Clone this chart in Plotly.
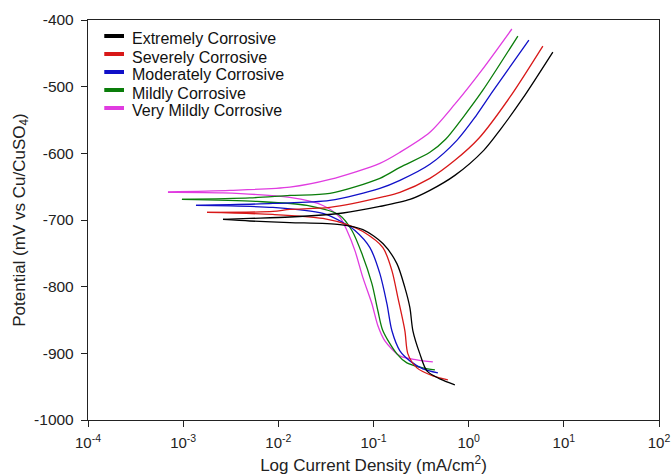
import plotly.graph_objects as go

# ---- data: current density (mA/cm^2) and potential (mV vs Cu/CuSO4) ----
# each series: cathodic branch (from Ecorr downward) and anodic branch (from Ecorr upward)
names = ["Extremely Corrosive", "Severely Corrosive", "Moderately Corrosive",
         "Mildly Corrosive", "Very Mildly Corrosive"]
colors = ["#000000", "#d81818", "#1010c8", "#0a7d0a", "#e03ce0"]

ext_cat_i = [0.00262, 0.00503, 0.0132, 0.0444, 0.0774, 0.1255, 0.1761, 0.2137, 0.2412, 0.2594, 0.3072, 0.3638, 0.4984, 0.7161]
ext_cat_e = [-699.2, -701.5, -703.8, -706.8, -714.3, -735.3, -765.4, -801.5, -831.6, -866.2, -900.8, -926.3, -938.4, -947.4]
ext_ano_i = [0.00262, 0.00503, 0.0132, 0.0477, 0.1167, 0.2412, 0.3913, 0.7161, 1.440, 2.16, 3.710, 7.664]
ext_ano_e = [-699.2, -697.7, -695.5, -689.5, -679.7, -669.2, -655.6, -633.1, -595.5, -564, -517.3, -448.1]

sev_cat_i = [0.00178, 0.00878, 0.0294, 0.0565, 0.0774, 0.1255, 0.1561, 0.1804, 0.2137, 0.2298, 0.2857, 0.4206, 0.6046]
sev_cat_e = [-688.7, -691.7, -697.7, -708.3, -717.3, -741.4, -775.9, -816.5, -866.2, -900.8, -921.8, -933.8, -939.9]
sev_ano_i = [0.00178, 0.00878, 0.0132, 0.0348, 0.1317, 0.1894, 0.3913, 0.7161, 1.280, 2.709, 6.017]
sev_ano_e = [-688.7, -687.2, -684.2, -681.2, -664.7, -658.6, -637.6, -610.5, -577.4, -515.8, -439.1]

mod_cat_i = [0.001363, 0.00878, 0.0294, 0.0477, 0.0638, 0.0917, 0.1167, 0.1383, 0.1561, 0.1894, 0.2412, 0.3303, 0.4748]
mod_cat_e = [-678.2, -681.2, -690.2, -703.8, -715.8, -741.4, -780.5, -825.6, -866.2, -896.2, -911.3, -923.3, -929.3]
mod_ano_i = [0.001363, 0.00878, 0.0348, 0.1167, 0.1894, 0.3913, 0.7517, 1.186, 1.796, 4.290]
mod_ano_e = [-678.2, -675.2, -670.7, -652.6, -640.6, -616.5, -580.5, -544.4, -506.8, -430.1]

mil_cat_i = [0.000971, 0.00596, 0.01998, 0.0444, 0.0593, 0.0755, 0.0962, 0.1112, 0.1255, 0.1761, 0.2243, 0.3303, 0.4416]
mil_cat_e = [-669.2, -672.2, -678.2, -693.2, -715.8, -750.4, -795.5, -836.1, -866.2, -900.8, -914.3, -921.8, -924.8]
mil_ano_i = [0.000971, 0.00503, 0.0132, 0.0348, 0.1167, 0.1894, 0.3913, 0.5725, 0.890, 1.410, 3.287]
mil_ano_e = [-669.2, -666.9, -663.2, -660.2, -637.6, -621.1, -598.5, -578.9, -544.4, -505.3, -424.1]

vmi_cat_i = [0.000692, 0.00262, 0.0132, 0.0294, 0.0444, 0.0526, 0.0638, 0.0774, 0.0962, 0.1112, 0.1317, 0.1894, 0.2857, 0.4206]
vmi_cat_e = [-658.6, -659.4, -666.2, -678.2, -696.2, -715.8, -745.9, -786.5, -825.6, -858.6, -881.2, -903.8, -909.8, -912.8]
vmi_ano_i = [0.000692, 0.0031, 0.0132, 0.0348, 0.1167, 0.1894, 0.3913, 0.716, 1.376, 2.843]
vmi_ano_e = [-657.9, -655.6, -650.7, -639.1, -615.0, -598.5, -568.4, -526.3, -475.2, -413.5]

x_tick_vals = [1e-4, 1e-3, 1e-2, 1e-1, 1e0, 1e1, 1e2]
x_tick_text = ["10<sup>-4</sup>", "10<sup>-3</sup>", "10<sup>-2</sup>", "10<sup>-1</sup>",
               "10<sup>0</sup>", "10<sup>1</sup>", "10<sup>2</sup>"]
y_tick_vals = [-1000, -900, -800, -700, -600, -500, -400]
y_tick_text = ["-1000", "-900", "-800", "-700", "-600", "-500", "-400"]

series = [
    (ext_cat_i, ext_cat_e, ext_ano_i, ext_ano_e),
    (sev_cat_i, sev_cat_e, sev_ano_i, sev_ano_e),
    (mod_cat_i, mod_cat_e, mod_ano_i, mod_ano_e),
    (mil_cat_i, mil_cat_e, mil_ano_i, mil_ano_e),
    (vmi_cat_i, vmi_cat_e, vmi_ano_i, vmi_ano_e),
]

FONT = "Liberation Sans, Arial, sans-serif"
fig = go.Figure()

# draw in reverse so black ends on top
for idx in reversed(range(len(series))):
    ci, ce, ai, ae = series[idx]
    for xs, ys in ((ci, ce), (ai, ae)):
        fig.add_trace(go.Scatter(
            x=xs, y=ys, mode="lines", showlegend=False, name=names[idx],
            line=dict(color=colors[idx], width=1.3, shape="spline", smoothing=0.8),
            hoverinfo="skip"))

# legend drawn manually (thick short bars + labels) to match compact spacing
legend_x0, legend_x1, legend_tx = 0.0285, 0.063, 0.0735
legend_top, legend_step = 0.960, 0.045
for idx, nm in enumerate(names):
    yb = legend_top - idx * legend_step
    fig.add_shape(type="line", xref="paper", yref="paper",
                  x0=legend_x0, x1=legend_x1, y0=yb, y1=yb,
                  line=dict(color=colors[idx], width=4))
    fig.add_annotation(xref="paper", yref="paper", x=legend_tx, y=yb - 0.0075,
                       xanchor="left", yanchor="middle", text=nm, showarrow=False,
                       font=dict(family=FONT, size=16, color="#111"))

axis_common = dict(
    showline=True, linecolor="#222", linewidth=1.3, mirror=True,
    ticks="outside", ticklen=6, tickwidth=1.3, tickcolor="#222",
    showgrid=False, zeroline=False, automargin=False,
)

fig.update_layout(
    width=672, height=475,
    margin=dict(l=88, r=13, t=20, b=55),
    paper_bgcolor="white", plot_bgcolor="white",
    font=dict(family=FONT, color="#222"),
    showlegend=False,
    xaxis=dict(type="log", range=[-4, 2], tickvals=x_tick_vals, ticktext=x_tick_text,
               tickfont=dict(family=FONT, size=15, color="#222"), ticklabelstandoff=3,
               title=dict(text="Log Current Density (mA/cm<sup>2</sup>)",
                          font=dict(family=FONT, size=17, color="#222"), standoff=12),
               **axis_common),
    yaxis=dict(range=[-1000, -400], tickvals=y_tick_vals, ticktext=y_tick_text,
               tickfont=dict(family=FONT, size=15.5, color="#222"), ticklabelstandoff=4,
               title=dict(text="Potential (mV vs Cu/CuSO<sub>4</sub>)",
                          font=dict(family=FONT, size=17, color="#222"), standoff=4),
               **axis_common),
)

fig.write_html("out.html", config={"displayModeBar": False},
               post_script="document.body.style.margin='0px';")
